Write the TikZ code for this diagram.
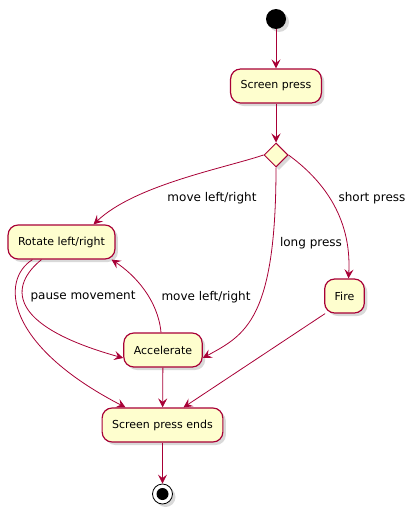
\documentclass[tikz,border=0pt]{standalone}
\usepackage{fontspec}
\setmainfont{DejaVu Sans}
\usetikzlibrary{arrows.meta,shapes.geometric,shadows}
\definecolor{umlred}{HTML}{A80036}
\definecolor{umlfill}{HTML}{FEFECE}
\begin{document}
\begin{tikzpicture}[x=1pt,y=-1pt]
  \tikzstyle{every node}=[font=\fontsize{11}{13}\selectfont]
  \tikzstyle{shade}=[drop shadow={shadow xshift=3pt,shadow yshift=-3pt,opacity=0.3}]
  \tikzstyle{state}=[draw=umlred,fill=umlfill,line width=1.2pt,rounded corners=10pt,
                     minimum height=34pt,inner xsep=10pt,shade]
  \tikzstyle{choice}=[diamond,draw=umlred,fill=umlfill,line width=1pt,minimum size=24pt,
                      inner sep=0pt,shade]
  \tikzstyle{flow}=[draw=umlred,line width=0.8pt,-{Stealth[length=9pt,width=9pt,inset=3.5pt]}]
  \tikzstyle{guard}=[text=black,font=\fontsize{12}{14}\selectfont]
  \def\midx{276} % x of the top column
  \useasboundingbox (0,0) rectangle (418,514);
  % nodes
  \node[circle,fill=black,minimum size=20pt,inner sep=0pt,shade] (start) at (\midx,19) {};
  \node[state] (press) at (\midx,86) {Screen press};
  \node[choice] (test) at (\midx,155) {};
  \node[state] (rotate) at (61.5,242) {Rotate left/right};
  \node[state] (fire) at (344.5,296) {Fire};
  \node[state] (accel) at (163,350) {Accelerate};
  \node[state] (ends) at (162.5,425) {Screen press ends};
  \node[circle,draw=black,fill=white,line width=0.8pt,minimum size=20pt,inner sep=0pt,shade] (stop) at (162.5,494) {};
  \node[circle,fill=black,minimum size=12pt,inner sep=0pt] (stopdot) at (stop) {};
  % guards
  \node[guard] (lblmove) at (212,198) {move left/right};
  \node[guard] (lbllong) at (311,243) {long press};
  \node[guard] (lblshort) at (372,198) {short press};
  \node[guard] (lblpause) at (83,297) {pause movement};
  \node[guard] (lblback) at (206,297) {move left/right};
  % flows
  \draw[flow] (start) -- (press);
  \draw[flow] (press) -- (test);
  \draw[flow] (test.west) .. controls (225,168) and (135,185) .. ([xshift=-22pt]rotate.north east);
  \draw[flow] (test.south) .. controls (\midx,320) and (245,335) .. ([yshift=-8pt]accel.east);
  \draw[flow] (test.east) .. controls (320,178) and (352,215) .. ([xshift=4pt]fire.north);
  \draw[flow] ([xshift=-20pt]rotate.south) .. controls (10,285) and (5,325) .. ([yshift=-8pt]accel.west);
  \draw[flow] ([xshift=-2pt]accel.north) .. controls (158,300) and (135,275) .. ([xshift=-4pt]rotate.south east);
  \draw[flow] ([xshift=-29pt]rotate.south) .. controls (0,280) and (5,345) .. ([xshift=24pt]ends.north west);
  \draw[flow] (accel) -- (ends);
  \draw[flow] ([xshift=1pt]fire.south west) -- ([xshift=-40pt]ends.north east);
  \draw[flow] (ends) -- (stop);
\end{tikzpicture}
\end{document}
